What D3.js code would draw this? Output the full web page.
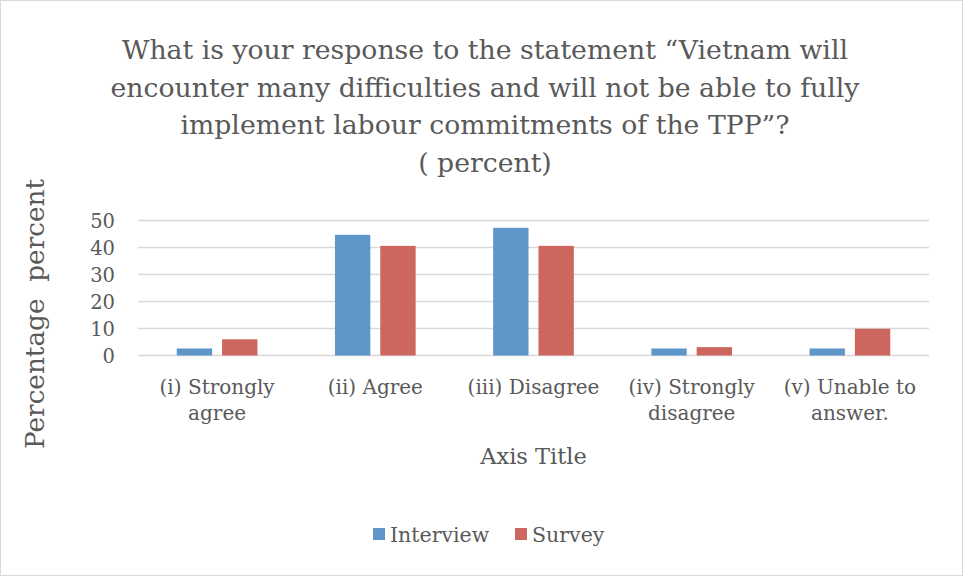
<!DOCTYPE html>
<meta charset="utf-8">
<head>
  <title>TPP labour commitments</title>
</head>
<style>
body { margin: 0; background: #fff; }
text { font-family: "DejaVu Serif", serif; fill: #595959; }
</style>
<body>
<script src="https://cdnjs.cloudflare.com/ajax/libs/d3/7.8.5/d3.min.js"></script>
<script>

var categories = [
  ["(i) Strongly", "agree"],
  ["(ii) Agree"],
  ["(iii) Disagree"],
  ["(iv) Strongly", "disagree"],
  ["(v) Unable to", "answer."]
];
var seriesNames = ["Interview", "Survey"];
var interview = [2.6, 44.7, 47.3, 2.6, 2.6];
var survey = [6.0, 40.6, 40.6, 3.1, 9.9];
var yTicks = [0, 10, 20, 30, 40, 50];
var titleLines = [
  "What is your response to the statement \u201cVietnam will",
  "encounter many difficulties and will not be able to fully",
  "implement labour commitments of the TPP\u201d?",
  "( percent)"
];
var colors = ["#5f96ca", "#cc665e"];

var w = 964, h = 577;
var margin = {top: 220.5, right: 35, bottom: 221.5, left: 138};

var svg = d3.select("body").append("svg")
  .attr("width", w)
  .attr("height", h);

// chart frame
svg.append("rect")
  .attr("x", 0.5).attr("y", 0.5)
  .attr("width", w - 2).attr("height", h - 2)
  .attr("fill", "#fff")
  .attr("stroke", "#d9d9d9");

var x = d3.scaleBand()
  .domain(d3.range(categories.length))
  .range([margin.left, w - margin.right])
  .paddingInner(0.49)
  .paddingOuter(0.245);

var x1 = d3.scaleBand()
  .domain(seriesNames)
  .range([0, x.bandwidth()])
  .paddingInner(0.22);

var y = d3.scaleLinear()
  .domain([0, 50])
  .range([h - margin.bottom, margin.top]);

// gridlines
svg.append("g").selectAll("line")
  .data(yTicks)
  .join("line")
  .attr("x1", margin.left)
  .attr("x2", w - margin.right)
  .attr("y1", d => y(d))
  .attr("y2", d => y(d))
  .attr("stroke", "#d9d9d9")
  .attr("stroke-width", 1.5);

// y tick labels
svg.append("g").selectAll("text")
  .data(yTicks)
  .join("text")
  .attr("x", 115)
  .attr("y", d => y(d))
  .attr("dy", "0.36em")
  .attr("text-anchor", "end")
  .style("font-size", "19.5px")
  .text(d => d);

// bars
var values = [interview, survey];
var groups = svg.append("g").selectAll("g")
  .data(seriesNames)
  .join("g")
  .attr("fill", (d, i) => colors[i]);

groups.selectAll("rect")
  .data((s, si) => values[si].map((v, ci) => ({s: s, v: v, c: ci})))
  .join("rect")
  .attr("x", d => x(d.c) + x1(d.s))
  .attr("width", x1.bandwidth())
  .attr("y", d => y(d.v))
  .attr("height", d => y(0) - y(d.v));

// x labels
var xl = svg.append("g").selectAll("text")
  .data(categories)
  .join("text")
  .attr("text-anchor", "middle")
  .attr("transform", (d, i) => "translate(" + (x(i) + x.bandwidth() / 2) + ",0)")
  .style("font-size", "20px");
xl.selectAll("tspan")
  .data(d => d)
  .join("tspan")
  .attr("x", 0)
  .attr("y", (d, i) => 394 + i * 26)
  .text(d => d);

// axis titles
svg.append("text")
  .attr("x", (margin.left + w - margin.right) / 2)
  .attr("y", 464)
  .attr("text-anchor", "middle")
  .style("font-size", "22.5px")
  .text("Axis Title");

svg.append("text")
  .attr("transform", "translate(44,314) rotate(-90)")
  .attr("text-anchor", "middle")
  .style("font-size", "26.3px")
  .style("white-space", "pre")
  .text("Percentage\u00a0\u00a0percent");

// title
svg.append("g").selectAll("text")
  .data(titleLines)
  .join("text")
  .attr("x", 485)
  .attr("y", (d, i) => 59 + i * 37.5)
  .attr("text-anchor", "middle")
  .style("font-size", "26.7px")
  .text(d => d);

// legend
var legend = svg.append("g").selectAll("g")
  .data(seriesNames)
  .join("g")
  .attr("transform", (d, i) => "translate(" + [373, 515][i] + ",528)");
legend.append("rect")
  .attr("width", 12).attr("height", 12)
  .attr("fill", (d, i) => colors[i]);
legend.append("text")
  .attr("x", 17)
  .attr("y", 14)
  .style("font-size", "20.5px")
  .text(d => d);

</script>
</body>
</html>
